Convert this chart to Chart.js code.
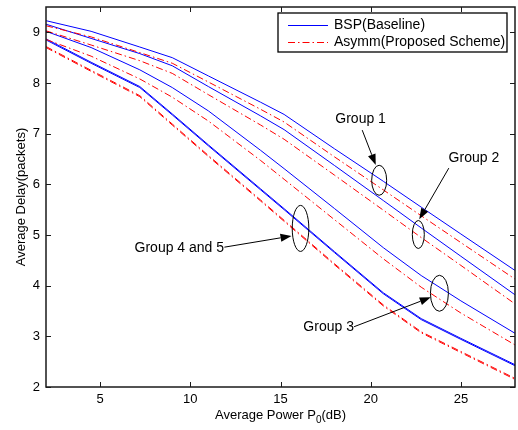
<!DOCTYPE html>
<html>
<head>
<meta charset="utf-8">
<script src="https://cdn.jsdelivr.net/npm/chart.js@4.4.1/dist/chart.umd.min.js"></script>
<style>
  body { margin: 0; background: #fff; }
  canvas { display: block; }
</style>
</head>
<body>
<canvas id="myChart" width="518" height="430"></canvas>
<script>
// average power in dB (x axis)
const power = [2, 4.5, 7.2, 9, 11, 13.9, 15.2, 18, 20.7, 22.8, 25, 28];

// BSP (baseline), blue solid
const bspGroup1 = [9.23, 9.02, 8.71, 8.50, 8.14, 7.62, 7.38, 6.70, 6.06, 5.55, 5.02, 4.30];
const bspGroup2 = [9.16, 8.88, 8.58, 8.34, 7.93, 7.35, 7.08, 6.37, 5.68, 5.14, 4.58, 3.82];
const bspGroup3 = [9.02, 8.70, 8.26, 7.91, 7.45, 6.67, 6.31, 5.52, 4.75, 4.20, 3.70, 3.06];
const bspGroup4 = [8.87, 8.41, 7.93, 7.39, 6.78, 5.91, 5.52, 4.67, 3.86, 3.35, 2.96, 2.44];
const bspGroup5 = [8.85, 8.39, 7.91, 7.37, 6.76, 5.89, 5.50, 4.65, 3.84, 3.33, 2.94, 2.42];

// Asymm (proposed scheme), red dash-dot
const asymmGroup1 = [9.13, 8.91, 8.60, 8.39, 8.02, 7.48, 7.23, 6.54, 5.89, 5.38, 4.85, 4.13];
const asymmGroup2 = [9.03, 8.75, 8.44, 8.19, 7.77, 7.17, 6.89, 6.18, 5.49, 4.95, 4.40, 3.64];
const asymmGroup3 = [8.86, 8.53, 8.08, 7.72, 7.25, 6.47, 6.10, 5.30, 4.53, 3.97, 3.46, 2.83];
const asymmGroup4 = [8.72, 8.25, 7.75, 7.19, 6.57, 5.69, 5.29, 4.43, 3.62, 3.09, 2.70, 2.17];
const asymmGroup5 = [8.70, 8.23, 7.73, 7.17, 6.55, 5.67, 5.27, 4.41, 3.60, 3.07, 2.68, 2.15];

const xTicks = [5, 10, 15, 20, 25];
const yTicks = [2, 3, 4, 5, 6, 7, 8, 9];

const seriesNames = ['BSP(Baseline)', 'Asymm(Proposed Scheme)'];

const fontName = 'Liberation Sans, Arial, sans-serif';
const blue = '#0000ff';
const red = '#ff0000';
const redDash = [7, 3, 1.5, 3];

function makeSet(values, color, dash, name) {
  return {
    label: name,
    data: power.map((p, i) => ({ x: p, y: values[i] })),
    borderColor: color,
    borderWidth: 1,
    borderDash: dash,
    pointRadius: 0,
    tension: 0,
    fill: false
  };
}

const datasets = [
  makeSet(bspGroup1, blue, [], seriesNames[0]),
  makeSet(asymmGroup1, red, redDash, seriesNames[1]),
  makeSet(bspGroup2, blue, [], seriesNames[0]),
  makeSet(asymmGroup2, red, redDash, seriesNames[1]),
  makeSet(bspGroup3, blue, [], seriesNames[0]),
  makeSet(asymmGroup3, red, redDash, seriesNames[1]),
  makeSet(bspGroup4, blue, [], seriesNames[0]),
  makeSet(asymmGroup4, red, redDash, seriesNames[1]),
  makeSet(bspGroup5, blue, [], seriesNames[0]),
  makeSet(asymmGroup5, red, redDash, seriesNames[1])
];

// annotation spots, in data units (x = dB, y = delay)
const notes = [
  { text: 'Group 1', tx: 19.44, ty: 7.29, ax: [19.53, 7.07, 20.28, 6.38], ex: 20.47, ey: 6.08, rx: 7.5, ry: 15 },
  { text: 'Group 2', tx: 25.72, ty: 6.52, ax: [24.33, 6.32, 22.69, 5.31], ex: 22.64, ey: 5.01, rx: 6, ry: 14 },
  { text: 'Group 3', tx: 17.67, ty: 3.18, ax: [19.08, 3.19, 23.33, 3.77], ex: 23.81, ey: 3.85, rx: 9, ry: 18 },
  { text: 'Group 4 and 5', tx: 9.39, ty: 4.75, ax: [11.89, 4.76, 15.61, 4.98], ex: 16.11, ey: 5.13, rx: 8.3, ry: 23 }
];

function arrow(ctx, x1, y1, x2, y2) {
  let ang = Math.atan2(y2 - y1, x2 - x1);
  let len = 11, half = 4;
  let bx = x2 - Math.cos(ang) * len;
  let by = y2 - Math.sin(ang) * len;
  ctx.beginPath();
  ctx.moveTo(x1, y1);
  ctx.lineTo(bx, by);
  ctx.stroke();
  ctx.beginPath();
  ctx.moveTo(x2, y2);
  ctx.lineTo(bx + Math.sin(ang) * half, by - Math.cos(ang) * half);
  ctx.lineTo(bx - Math.sin(ang) * half, by + Math.cos(ang) * half);
  ctx.closePath();
  ctx.fill();
}

const matlabFrame = {
  id: 'matlabFrame',
  afterDraw(chart) {
    const ctx = chart.ctx;
    const a = chart.chartArea;
    const xs = chart.scales.x;
    const ys = chart.scales.y;
    ctx.save();

    // box + inward ticks on all sides
    ctx.strokeStyle = '#1a1a1a';
    ctx.lineWidth = 1.5;
    ctx.strokeRect(a.left, a.top, a.right - a.left, a.bottom - a.top);
    ctx.lineWidth = 1;
    ctx.beginPath();
    xTicks.forEach(v => {
      let px = Math.round(xs.getPixelForValue(v)) + 0.5;
      ctx.moveTo(px, a.bottom); ctx.lineTo(px, a.bottom - 5);
      ctx.moveTo(px, a.top); ctx.lineTo(px, a.top + 5);
    });
    yTicks.forEach(v => {
      let py = Math.round(ys.getPixelForValue(v)) + 0.5;
      ctx.moveTo(a.left, py); ctx.lineTo(a.left + 5, py);
      ctx.moveTo(a.right, py); ctx.lineTo(a.right - 5, py);
    });
    ctx.stroke();

    // axis titles
    ctx.fillStyle = '#000';
    ctx.font = '13px ' + fontName;
    ctx.textBaseline = 'middle';
    let part1 = 'Average Power P';
    let part2 = '0';
    let part3 = '(dB)';
    let w1 = ctx.measureText(part1).width;
    let w3 = ctx.measureText(part3).width;
    ctx.font = '10px ' + fontName;
    let w2 = ctx.measureText(part2).width;
    let startX = (a.left + a.right) / 2 - (w1 + w2 + w3) / 2;
    let ty = 415;
    ctx.font = '13px ' + fontName;
    ctx.textAlign = 'left';
    ctx.fillText(part1, startX, ty);
    ctx.font = '10px ' + fontName;
    ctx.fillText(part2, startX + w1, ty + 5);
    ctx.font = '13px ' + fontName;
    ctx.fillText(part3, startX + w1 + w2, ty);

    ctx.save();
    ctx.translate(21, (a.top + a.bottom) / 2);
    ctx.rotate(-Math.PI / 2);
    ctx.textAlign = 'center';
    ctx.fillText('Average Delay(packets)', 0, 0);
    ctx.restore();

    // legend box
    let lx = a.right - 237, ly = a.top + 6, lw = 229, lh = 39;
    ctx.fillStyle = '#fff';
    ctx.fillRect(lx, ly, lw, lh);
    ctx.strokeStyle = '#000';
    ctx.lineWidth = 1.3;
    ctx.strokeRect(lx, ly, lw, lh);
    let rows = [[blue, []], [red, redDash]];
    rows.forEach((r, i) => {
      let yy = ly + 12 + i * 17;
      ctx.strokeStyle = r[0];
      ctx.lineWidth = 1;
      ctx.setLineDash(r[1]);
      ctx.beginPath();
      ctx.moveTo(lx + 10, yy + 0.5);
      ctx.lineTo(lx + 50, yy + 0.5);
      ctx.stroke();
      ctx.setLineDash([]);
      ctx.fillStyle = '#000';
      ctx.font = '14px ' + fontName;
      ctx.textAlign = 'left';
      ctx.fillText(seriesNames[i], lx + 56, yy);
    });

    // group notes: ellipse, arrow, label
    ctx.strokeStyle = '#000';
    ctx.fillStyle = '#000';
    ctx.lineWidth = 1;
    notes.forEach(n => {
      ctx.beginPath();
      ctx.ellipse(xs.getPixelForValue(n.ex), ys.getPixelForValue(n.ey), n.rx, n.ry, 0, 0, Math.PI * 2);
      ctx.stroke();
      arrow(ctx,
        xs.getPixelForValue(n.ax[0]), ys.getPixelForValue(n.ax[1]),
        xs.getPixelForValue(n.ax[2]), ys.getPixelForValue(n.ax[3]));
      ctx.font = '14px ' + fontName;
      ctx.textAlign = 'center';
      ctx.fillText(n.text, xs.getPixelForValue(n.tx), ys.getPixelForValue(n.ty));
    });

    ctx.restore();
  }
};

const config = {
  type: 'line',
  data: { datasets: datasets },
  options: {
    responsive: false,
    animation: false,
    layout: { padding: { top: 7, right: 3, left: 0, bottom: 0 } },
    scales: {
      x: {
        type: 'linear',
        min: 2,
        max: 28,
        afterBuildTicks: s => { s.ticks = xTicks.map(v => ({ value: v })); },
        afterFit: s => { s.height = 43; s.paddingLeft = 0; s.paddingRight = 0; },
        grid: { display: false, drawTicks: false },
        border: { display: false },
        ticks: { color: '#000', padding: 5, maxRotation: 0, font: { family: fontName, size: 13 } }
      },
      y: {
        min: 2,
        max: 9.5,
        afterBuildTicks: s => { s.ticks = yTicks.map(v => ({ value: v })); },
        afterFit: s => { s.width = 46; s.paddingTop = 0; s.paddingBottom = 0; },
        grid: { display: false, drawTicks: false },
        border: { display: false },
        ticks: { color: '#000', padding: 6, font: { family: fontName, size: 13 } }
      }
    },
    plugins: {
      legend: { display: false },
      tooltip: { enabled: false }
    }
  },
  plugins: [matlabFrame]
};

let myChart = new Chart(document.getElementById('myChart'), config);
</script>
</body>
</html>
